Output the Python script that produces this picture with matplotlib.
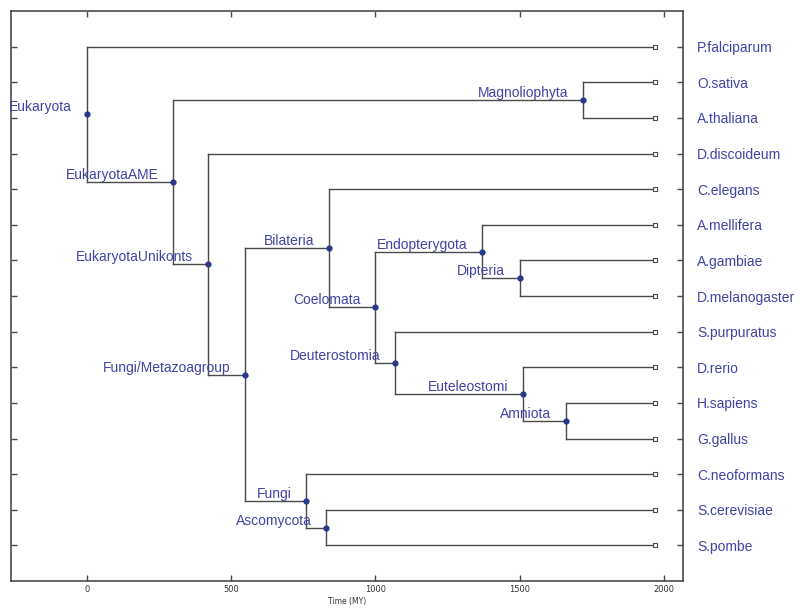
import matplotlib.pyplot as plt

# Leaves (top to bottom) and the age at which all leaves sit
leaves = ['P.falciparum', 'O.sativa', 'A.thaliana', 'D.discoideum', 'C.elegans',
          'A.mellifera', 'A.gambiae', 'D.melanogaster', 'S.purpuratus', 'D.rerio',
          'H.sapiens', 'G.gallus', 'C.neoformans', 'S.cerevisiae', 'S.pombe']
leaf_time = 1970

# Internal nodes: name, time (MY) and children
node_names = ['Eukaryota', 'EukaryotaAME', 'Magnoliophyta', 'EukaryotaUnikonts',
              'Fungi/Metazoagroup', 'Bilateria', 'Coelomata', 'Endopterygota',
              'Dipteria', 'Deuterostomia', 'Euteleostomi', 'Amniota', 'Fungi',
              'Ascomycota']
node_times = [0, 300, 1720, 420, 550, 840, 1000, 1370, 1500, 1070, 1510, 1660, 760, 830]
node_children = [
    ['P.falciparum', 'EukaryotaAME'],
    ['Magnoliophyta', 'EukaryotaUnikonts'],
    ['O.sativa', 'A.thaliana'],
    ['D.discoideum', 'Fungi/Metazoagroup'],
    ['Bilateria', 'Fungi'],
    ['C.elegans', 'Coelomata'],
    ['Endopterygota', 'Deuterostomia'],
    ['A.mellifera', 'Dipteria'],
    ['A.gambiae', 'D.melanogaster'],
    ['S.purpuratus', 'Euteleostomi'],
    ['D.rerio', 'Amniota'],
    ['H.sapiens', 'G.gallus'],
    ['C.neoformans', 'Ascomycota'],
    ['S.cerevisiae', 'S.pombe'],
]

line_col = '#4a4a4a'
text_col = '#4242a6'
dot_col = '#28378a'

xpos = {name: leaf_time for name in leaves}
ypos = {name: i + 1 for i, name in enumerate(leaves)}
children = dict(zip(node_names, node_children))
xpos.update(dict(zip(node_names, node_times)))


def get_y(name):
    if name not in ypos:
        ypos[name] = sum(get_y(c) for c in children[name]) / len(children[name])
    return ypos[name]


for n in node_names:
    get_y(n)

fig = plt.figure(figsize=(8, 6.16), dpi=100)
ax = fig.add_axes([0.01375, 0.0568, 0.84, 0.9252])

for n in node_names:
    ys = [ypos[c] for c in children[n]]
    ax.plot([xpos[n], xpos[n]], [min(ys), max(ys)], color=line_col, lw=1.0, zorder=1)
    for c in children[n]:
        ax.plot([xpos[n], xpos[c]], [ypos[c], ypos[c]], color=line_col, lw=1.0, zorder=1)

ax.scatter([xpos[n] for n in node_names], [ypos[n] for n in node_names],
           s=12, color=dot_col, zorder=3)
ax.scatter([leaf_time] * len(leaves), [ypos[l] for l in leaves], s=10, marker='s',
           facecolor='white', edgecolor=line_col, linewidths=0.8, zorder=3)

for n in node_names:
    ax.annotate(n, (xpos[n], ypos[n]), xytext=(-10.5, 5), textcoords='offset points',
                ha='right', va='center', fontsize=10, color=text_col,
                family='Liberation Sans')

ax.set_xlim(-262, 2066)
ax.set_ylim(16, 0)
ax.set_xticks([0, 500, 1000, 1500, 2000])
ax.set_yticks(range(1, len(leaves) + 1))
ax.set_yticklabels(leaves)
ax.tick_params(axis='y', direction='in', length=4.5, width=1, color=line_col,
               left=True, right=True, labelleft=False, labelright=True,
               labelsize=10, labelcolor=text_col, pad=10)
ax.tick_params(axis='x', direction='in', length=4.5, width=1, color=line_col,
               top=True, bottom=True, labelsize=6, labelcolor='#333333', pad=3)
for lab in ax.get_yticklabels():
    lab.set_family('Liberation Sans')
ax.set_xlabel('Time (MY)', fontsize=5.5, color='#333333', labelpad=2)
for s in ax.spines.values():
    s.set_color(line_col)
    s.set_linewidth(1.2)

fig.savefig('out.png', dpi=100)
